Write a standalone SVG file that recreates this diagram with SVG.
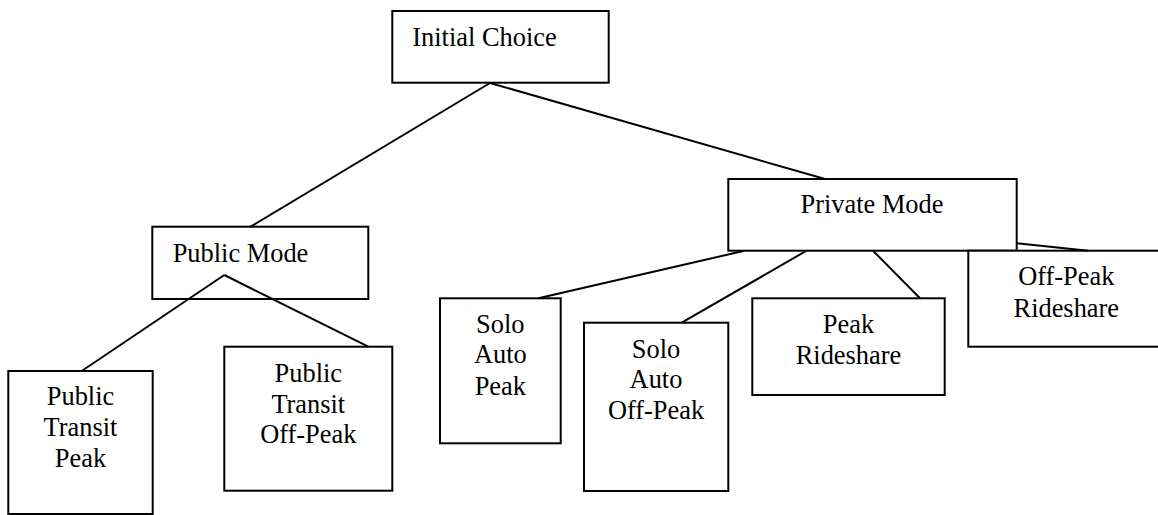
<svg xmlns="http://www.w3.org/2000/svg" width="1158" height="515" viewBox="0 0 1158 515">
<style>
.box{fill:#fff;stroke:#000;stroke-width:2}
.edge{stroke:#000;stroke-width:2;fill:none}
text{font-family:'Liberation Serif','Times New Roman',Tinos,Times,'DejaVu Serif',serif;font-size:26.4px;fill:#000}
.c{text-anchor:middle}
</style>
<rect width="1158" height="515" fill="#fff"/>
<g id="initial-choice">
<rect class="box" x="392.3" y="11" width="216.4" height="71.7"/>
<text x="412.3" y="45.7" font-family="Liberation Serif, serif">Initial Choice</text>
</g>
<g id="public-mode">
<rect class="box" x="152.3" y="226.7" width="216" height="72.3"/>
<text x="172.7" y="261.7">Public Mode</text>
</g>
<g id="private-mode">
<rect class="box" x="728.3" y="179" width="288.4" height="71.7"/>
<text class="c" x="872" y="213.3">Private Mode</text>
</g>
<g id="public-transit-peak">
<rect class="box" x="8.3" y="371" width="144.4" height="143"/>
<text class="c" x="80.5" y="405">Public</text>
<text class="c" x="80.5" y="436">Transit</text>
<text class="c" x="80.5" y="466.7">Peak</text>
</g>
<g id="public-transit-off-peak">
<rect class="box" x="224.3" y="346.7" width="168" height="144"/>
<text class="c" x="308.3" y="381.7">Public</text>
<text class="c" x="308.3" y="412.7">Transit</text>
<text class="c" x="308.3" y="443.3">Off-Peak</text>
</g>
<g id="solo-auto-peak">
<rect class="box" x="440" y="298.3" width="120.7" height="145"/>
<text class="c" x="500.3" y="333.3">Solo</text>
<text class="c" x="500.3" y="363.3">Auto</text>
<text class="c" x="500.3" y="395">Peak</text>
</g>
<g id="solo-auto-off-peak">
<rect class="box" x="584" y="322.7" width="144.3" height="168.3"/>
<text class="c" x="656" y="357.7">Solo</text>
<text class="c" x="656" y="388.3">Auto</text>
<text class="c" x="656" y="419.3">Off-Peak</text>
</g>
<g id="peak-rideshare">
<rect class="box" x="752.3" y="298.3" width="192.4" height="96.7"/>
<text class="c" x="848.5" y="333.3">Peak</text>
<text class="c" x="848.5" y="364.3">Rideshare</text>
</g>
<g id="off-peak-rideshare">
<rect class="box" x="968.3" y="250.7" width="196" height="96"/>
<text class="c" x="1066.3" y="285">Off-Peak</text>
<text class="c" x="1066.3" y="316.7">Rideshare</text>
</g>
<g id="connectors">
<line class="edge" x1="490" y1="83" x2="250" y2="227"/>
<line class="edge" x1="490" y1="83" x2="825" y2="179"/>
<line class="edge" x1="224.3" y1="275" x2="81.7" y2="371"/>
<line class="edge" x1="224.3" y1="275" x2="368.3" y2="346.7"/>
<line class="edge" x1="743.3" y1="251" x2="538.3" y2="298.3"/>
<line class="edge" x1="806" y1="251" x2="681.7" y2="322.7"/>
<line class="edge" x1="873.3" y1="251" x2="920" y2="298.3"/>
<line class="edge" x1="1016.7" y1="243.3" x2="1088.3" y2="250.7"/>
</g>
</svg>
